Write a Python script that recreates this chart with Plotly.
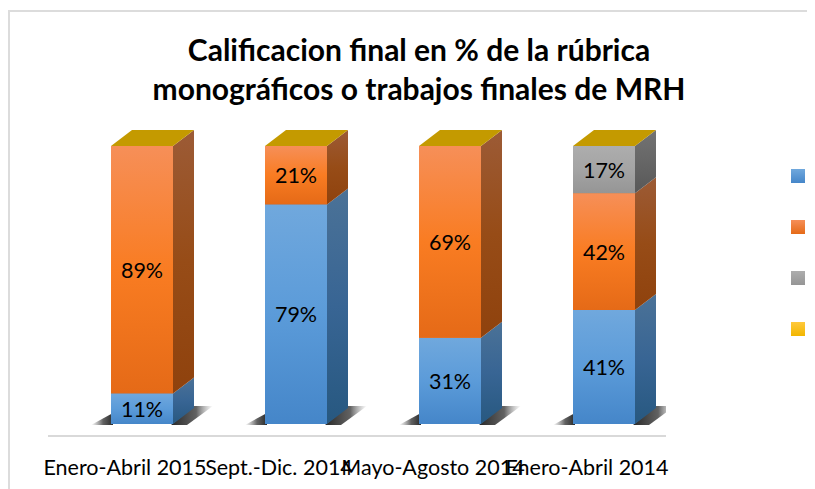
import plotly.graph_objects as go

categories = ["Enero-Abril 2015", "Sept.-Dic. 2014", "Mayo-Agosto 2014", "Enero-Abril 2014"]
serie_1 = [11, 79, 31, 41]
serie_2 = [89, 21, 69, 42]
serie_3 = [0, 0, 0, 17]
serie_4 = [0, 0, 0, 0]
series = [serie_1, serie_2, serie_3, serie_4]

OFS = 8  # the page places the figure 8px in from the window corner
W, H = 815 - OFS, 489 - OFS
AX_L, AX_R, AX_Y = 48 - OFS, 666 - OFS, 435 - OFS
SP, C0, HALF = 154.0, 142.0 - OFS, 31.0
BASE, TOP = 424.0 - OFS, 146.0 - OFS
PPY = (BASE - TOP) / 100.0
DX, DY = 21.0 / SP, 16.0 / PPY
BW = 2 * HALF / SP
xr = [(AX_L - C0) / SP, (AX_R - C0) / SP]
yr = [-(AX_Y - BASE) / PPY, BASE / PPY]
TICK_SHIFT = 17.0 / SP
LABEL_DROP = 2.5 / PPY

front = [
    ["#70a8dd", "#5b9bd9", "#4586c9"],
    ["#f68f58", "#f97c22", "#e56a17"],
    ["#adadad", "#a4a4a4", "#959595"],
    ["#ffc93c", "#fdc20e", "#f2b600"],
]
side = [
    ["#4b7297", "#386594", "#275880"],
    ["#9c5b36", "#974c17", "#8f420d"],
    ["#737373", "#666666", "#585858"],
    ["#9a7a10", "#917000", "#8a6a00"],
]
cap = "#c49a00"
mid = [c[1] for c in front]


def grad(cols):
    return dict(type="vertical",
                colorscale=[[0, cols[2]], [0.5, cols[1]], [1, cols[0]]])


def fx(px):
    return (px - AX_L) / (AX_R - AX_L)


def fy(px):
    return 1 - px / AX_Y


fig = go.Figure()
idx = list(range(len(categories)))

for s, vals in enumerate(series):
    fig.add_trace(go.Bar(x=idx, y=vals, width=BW, marker=dict(color=mid[s], line_width=0),
                         showlegend=False, hoverinfo="skip"))


def poly(xs, ys, **kw):
    fig.add_trace(go.Scatter(x=xs, y=ys, mode="lines", fill="toself", line_width=0,
                             showlegend=False, hoverinfo="skip", **kw))


hb = BW / 2
# floor shadow
for i in idx:
    poly([i - hb - 20 / SP, i - hb + 2 / SP, i - hb + 2 / SP],
         [-1 / PPY, -1 / PPY, 11 / PPY],
         fillgradient=dict(type="horizontal",
                           colorscale=[[0, "rgba(110,110,110,0)"], [0.55, "rgba(70,70,70,0.85)"],
                                       [1, "rgba(40,40,40,1)"]]))
    poly([i + hb - 2 / SP, i + hb + 14 / SP, i + hb + 40 / SP, i + hb + DX],
         [-1 / PPY, -1 / PPY, 18 / PPY, 18 / PPY],
         fillgradient=dict(type="horizontal",
                           colorscale=[[0, "rgba(40,40,40,1)"], [0.6, "rgba(70,70,70,0.85)"],
                                       [1, "rgba(130,130,130,0)"]]))

# gradient faces
for i in idx:
    b = 0
    for s, vals in enumerate(series):
        v = vals[i]
        if v > 0:
            poly([i - hb, i + hb, i + hb, i - hb], [b, b, b + v, b + v], fillgradient=grad(front[s]))
            poly([i + hb, i + hb + DX, i + hb + DX, i + hb], [b, b + DY, b + v + DY, b + v],
                 fillgradient=grad(side[s]))
        b += v
    poly([i - hb, i + hb, i + hb + DX, i - hb + DX], [b, b, b + DY, b + DY], fillcolor=cap)

# data labels
for s, vals in enumerate(series):
    xs, ys, ts = [], [], []
    b = [sum(series[k][i] for k in range(s)) for i in idx]
    for i in idx:
        if vals[i] > 0:
            xs.append(i)
            ys.append(b[i] + vals[i] / 2 - LABEL_DROP)
            ts.append(f"{vals[i]}%")
    if xs:
        fig.add_trace(go.Scatter(x=xs, y=ys, text=ts, mode="text", showlegend=False, hoverinfo="skip",
                                 textfont=dict(family="Lato", size=21.5, color="#000000")))

# legend entries (names are not visible in the reference)
for s in range(4):
    fig.add_trace(go.Scatter(x=[None], y=[None], mode="markers", name=" ", legendgroup=str(s),
                             marker=dict(symbol="square", size=14, color=front[s][0],
                                         gradient=dict(type="vertical", color=front[s][2]))))

fig.update_layout(
    width=W, height=H, barmode="stack", autosize=False,
    paper_bgcolor="white", plot_bgcolor="rgba(0,0,0,0)",
    margin=dict(l=AX_L, r=W - AX_R, t=0, b=H - AX_Y, autoexpand=False),
    font=dict(family="Lato", color="#000000"),
    title=dict(text="<b>Calificacion final en % de la rúbrica<br>monográficos o trabajos finales de MRH</b>",
               x=(419 - OFS) / W, xanchor="center", y=1 - 52.5 / H, yanchor="middle",
               font=dict(family="Lato", size=30, color="#000000")),
    xaxis=dict(range=xr, tickmode="array", tickvals=[i - TICK_SHIFT for i in idx], ticktext=categories,
               showgrid=False, zeroline=False, showline=True, linecolor="#d9d9d9", linewidth=2,
               ticks="", tickangle=0, tickfont=dict(family="Lato", size=21.5, color="#000000"), ticklabelstandoff=12),
    yaxis=dict(range=yr, visible=False, fixedrange=True),
    legend=dict(x=fx(770), y=fy(153.5), xanchor="left", yanchor="top", traceorder="grouped",
                tracegroupgap=32, bgcolor="rgba(0,0,0,0)", font=dict(size=12)),
    showlegend=True,
    shapes=[
        dict(type="line", xref="paper", yref="paper", x0=fx(1), x1=fx(1), y0=fy(3), y1=fy(H),
             line=dict(color="#dcdcdc", width=2)),
        dict(type="line", xref="paper", yref="paper", x0=fx(0), x1=fx(W), y0=fy(3), y1=fy(3),
             line=dict(color="#dcdcdc", width=2)),
    ],
)
fig.write_html("out.html")
